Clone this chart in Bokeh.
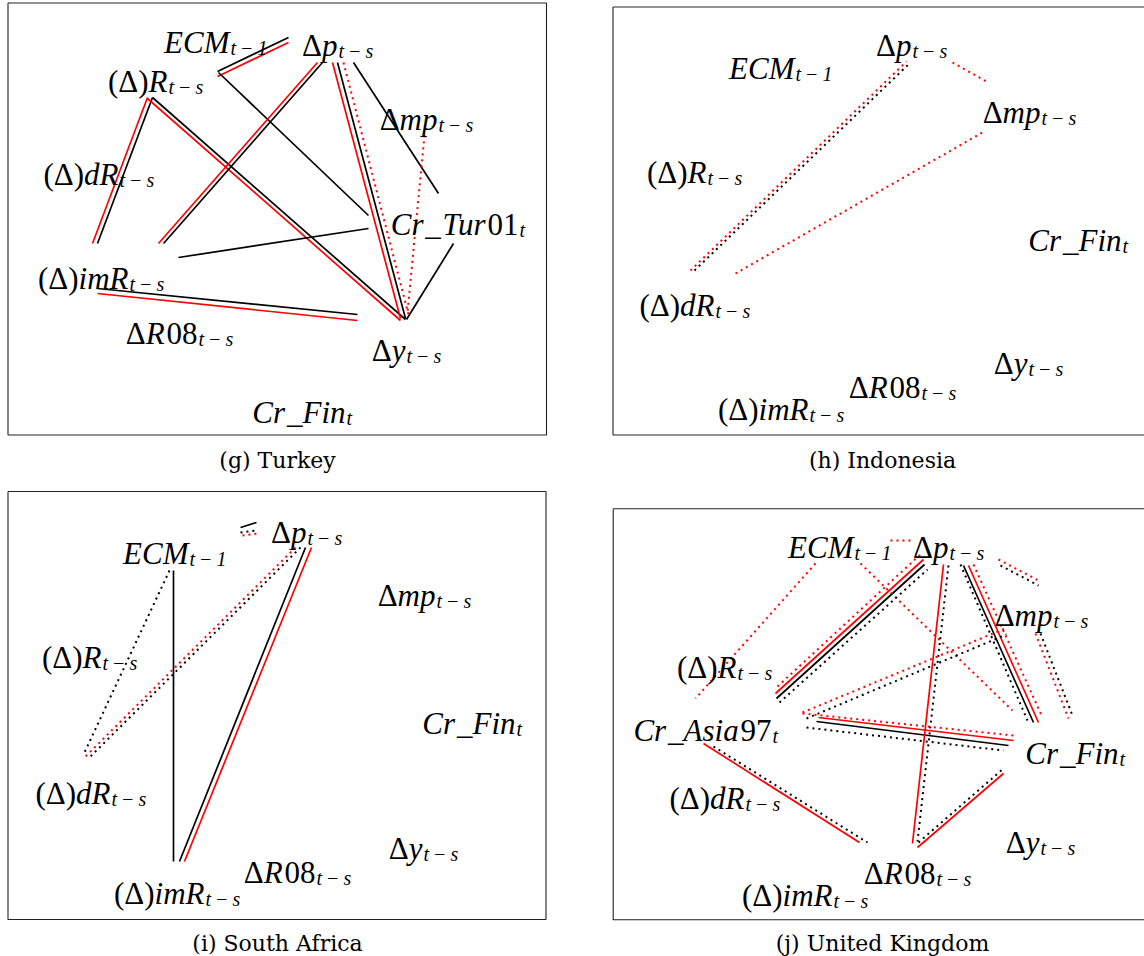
from bokeh.plotting import figure
from bokeh.models import Range1d, ColumnDataSource
from bokeh.core.properties import value
from bokeh.embed import file_html
from bokeh.resources import INLINE

# ---------------- data (page-pixel layout) ----------------
TS = "t\u2009\u2212\u2009s"
T1 = "t\u2009\u2212\u20091"

# nodes: (main label key, subscript, junction x, baseline y)
TURKEY_NODES = [
    ("ECM", T1, 229, 42), ("Dp", TS, 337, 45), ("(D)R", TS, 167, 81),
    ("Dmp", TS, 437, 119), ("(D)dR", TS, 118, 174), ("Cr_Tur01", "t", 518, 224),
    ("(D)imR", TS, 128, 278), ("DR08", TS, 197, 333), ("Dy", TS, 405, 350),
    ("Cr_Fin", "t", 345, 412),
]
INDONESIA_NODES = [
    ("ECM", T1, 794, 68), ("Dp", TS, 911, 45), ("Dmp", TS, 1040, 112),
    ("(D)R", TS, 706, 172), ("Cr_Fin", "t", 1121, 240), ("(D)dR", TS, 714, 305),
    ("Dy", TS, 1027, 363), ("DR08", TS, 920, 387), ("(D)imR", TS, 808, 409),
]
SAFRICA_NODES = [
    ("ECM", T1, 188, 553), ("Dp", TS, 306, 532), ("Dmp", TS, 435, 595),
    ("(D)R", TS, 101, 657), ("Cr_Fin", "t", 515, 723), ("(D)dR", TS, 110, 793),
    ("Dy", TS, 422, 848), ("DR08", TS, 315, 872), ("(D)imR", TS, 204, 893),
]
UK_NODES = [
    ("ECM", T1, 853, 547), ("Dp", TS, 948, 547), ("Dmp", TS, 1052, 615),
    ("(D)R", TS, 736, 667), ("Cr_Asia97", "t", 771, 730), ("Cr_Fin", "t", 1118, 753),
    ("(D)dR", TS, 744, 798), ("Dy", TS, 1039, 842), ("DR08", TS, 935, 873),
    ("(D)imR", TS, 832, 895),
]

# label pieces: upright (U) / italic (I), as typeset in the reference
LABEL_PARTS = {
    "ECM": [("ECM", "I")],
    "Dp": [("\u0394", "U"), ("p", "I")],
    "(D)R": [("(\u0394)", "U"), ("R", "I")],
    "Dmp": [("\u0394", "U"), ("mp", "I")],
    "(D)dR": [("(\u0394)", "U"), ("dR", "I")],
    "Cr_Tur01": [("Cr", "I"), ("_", "U"), ("Tur", "I"), ("01", "U")],
    "(D)imR": [("(\u0394)", "U"), ("imR", "I")],
    "DR08": [("\u0394", "U"), ("R", "I"), ("08", "U")],
    "Dy": [("\u0394", "U"), ("y", "I")],
    "Cr_Fin": [("Cr", "I"), ("_", "U"), ("Fin", "I")],
    "Cr_Asia97": [("Cr", "I"), ("_", "U"), ("Asia", "I"), ("97", "U")],
}

# edges: (x0, y0, x1, y1, colour, style)
TURKEY_EDGES = [
    (217, 71, 288, 37, "black", "solid"), (217, 76, 288, 42, "red", "solid"),
    (218, 72, 368, 215, "black", "solid"),
    (147, 97, 92, 243, "red", "solid"), (152, 97, 97, 243, "black", "solid"),
    (147, 98, 400, 320, "red", "solid"), (152, 97, 405, 319, "black", "solid"),
    (317, 62, 158, 243, "red", "solid"), (322, 62, 163, 243, "black", "solid"),
    (332, 62, 400, 318, "red", "solid"), (337, 62, 405, 318, "black", "solid"),
    (343, 62, 408, 314, "red", "dot"),
    (353, 62, 438, 193, "black", "solid"),
    (424, 135, 407, 312, "red", "dot"),
    (368, 228, 178, 257, "black", "solid"),
    (453, 243, 406, 319, "black", "solid"),
    (97, 288, 357, 314, "black", "solid"), (97, 293, 357, 320, "red", "solid"),
]
INDONESIA_EDGES = [
    (690, 270, 906, 61, "red", "dot"), (694, 270, 910, 62, "black", "dot"),
    (952, 62, 986, 81, "red", "dot"),
    (735, 273, 982, 132, "red", "dot"),
]
SAFRICA_EDGES = [
    (169, 570, 84, 752, "black", "dot"),
    (173, 570, 173, 861, "black", "solid"),
    (295, 547, 84, 757, "red", "dot"), (300, 547, 89, 757, "black", "dot"),
    (305, 547, 179, 861, "black", "solid"), (311, 547, 184, 861, "red", "solid"),
    (240, 527, 256, 522, "black", "solid"),
    (240, 532, 256, 530, "black", "dot"), (242, 535, 257, 533, "red", "dot"),
]
UK_EDGES = [
    (890, 540, 910, 540, "red", "dot"),
    (815, 563, 695, 698, "red", "dot"),
    (860, 563, 1012, 710, "red", "dot"),
    (777, 686, 921, 553, "red", "dot"), (775, 693, 923, 559, "red", "solid"),
    (776, 698, 924, 564, "black", "solid"), (779, 702, 927, 569, "black", "dot"),
    (802, 712, 1007, 627, "red", "dot"), (806, 718, 1006, 634, "black", "dot"),
    (802, 713, 1013, 735, "red", "dot"), (818, 717, 1013, 740, "red", "solid"),
    (816, 721, 1008, 745, "black", "solid"), (806, 727, 1003, 750, "black", "dot"),
    (943, 564, 912, 843, "red", "solid"), (948, 565, 917, 841, "black", "dot"),
    (960, 564, 1027, 720, "black", "dot"), (963, 565, 1033, 722, "black", "solid"),
    (968, 565, 1038, 722, "red", "solid"), (973, 564, 1042, 717, "red", "dot"),
    (998, 559, 1038, 580, "red", "dot"), (1000, 565, 1038, 585, "black", "dot"),
    (1035, 633, 1068, 718, "red", "dot"), (1040, 633, 1072, 715, "black", "dot"),
    (703, 743, 859, 842, "red", "solid"), (713, 746, 867, 842, "black", "dot"),
    (917, 847, 1003, 773, "red", "solid"), (918, 842, 1003, 768, "black", "dot"),
]

CAPTIONS = ["(g) Turkey", "(h) Indonesia", "(i) South Africa", "(j) United Kingdom"]
CAPTION_X = [277, 882, 277, 882]
CAPTION_Y = [460, 460, 943, 943]

# panel frames: left, top, right, bottom
BOXES = [(7.5, 2.5, 546, 434.5), (612.5, 6.5, 1160, 434.5),
         (7.5, 491, 545.5, 919), (612.7, 508.3, 1160, 919.3)]

NODES = TURKEY_NODES + INDONESIA_NODES + SAFRICA_NODES + UK_NODES
EDGES = TURKEY_EDGES + INDONESIA_EDGES + SAFRICA_EDGES + UK_EDGES

# ---------------- font metrics (Liberation Serif, em units) ----------------
UP_W = {"(": 0.333, ")": 0.333, "\u0394": 0.63, "_": 0.5}
IT_W = {"C": 0.667, "E": 0.611, "M": 0.833, "R": 0.611, "T": 0.556, "F": 0.611,
        "A": 0.611, "a": 0.5, "d": 0.5, "i": 0.278, "m": 0.722, "n": 0.5,
        "p": 0.5, "r": 0.389, "s": 0.389, "u": 0.5, "y": 0.444, "t": 0.278}
MAIN_PX = 31
SUB_PX = 20
FONT = "Liberation Serif"


def width(txt, style):
    tbl = UP_W if style == "U" else IT_W
    return sum(tbl.get(ch, 0.5) for ch in txt) * MAIN_PX


# ---------------- figure ----------------
W, H = 1144, 956
p = figure(width=W, height=H, x_range=Range1d(0, W), y_range=Range1d(H, 0),
           output_backend="svg", toolbar_location=None,
           x_axis_type=None, y_axis_type=None, min_border=0)
p.grid.visible = False
p.outline_line_color = None
p.background_fill_color = "white"
p.border_fill_color = "white"

# frames
p.multi_line(xs=[[l, r, r, l, l] for (l, t, r, b) in BOXES],
             ys=[[t, t, b, b, t] for (l, t, r, b) in BOXES],
             line_color="#222222", line_width=1.1)

# edges
for style, dash, lw in [("solid", "solid", 1.7), ("dot", "2 4", 2.0)]:
    sel = [e for e in EDGES if e[5] == style]
    src = ColumnDataSource(dict(x0=[e[0] for e in sel], y0=[e[1] for e in sel],
                                x1=[e[2] for e in sel], y1=[e[3] for e in sel],
                                c=[e[4] for e in sel]))
    p.segment(x0="x0", y0="y0", x1="x1", y1="y1", source=src, line_color="c",
              line_width=lw, line_dash=dash, line_cap="butt")

# node labels: pieces right-aligned against the subscript junction
pieces = {"U": dict(x=[], y=[], text=[]), "I": dict(x=[], y=[], text=[])}
for key, sub, xj, yb in NODES:
    parts = LABEL_PARTS[key]
    right = xj
    for i in range(len(parts) - 1, -1, -1):
        txt, st = parts[i]
        if st == "I" and i < len(parts) - 1:
            right -= 0.06 * MAIN_PX
        pieces[st]["x"].append(right)
        pieces[st]["y"].append(yb)
        pieces[st]["text"].append(txt)
        right -= width(txt, st)

for st, fs in [("U", "normal"), ("I", "italic")]:
    p.text(x="x", y="y", text="text", source=ColumnDataSource(pieces[st]),
           text_font=value(FONT), text_font_style=fs,
           text_font_size=f"{MAIN_PX}px", text_align="right",
           text_baseline="alphabetic", text_color="black")

sub_src = ColumnDataSource(dict(x=[n[2] + 1 for n in NODES], y=[n[3] + 5 for n in NODES],
                                text=[n[1] for n in NODES]))
p.text(x="x", y="y", text="text", source=sub_src, text_font=value(FONT),
       text_font_style="italic", text_font_size=f"{SUB_PX}px", text_align="left",
       text_baseline="alphabetic", text_color="black")

# captions
cap_src = ColumnDataSource(dict(x=CAPTION_X, y=CAPTION_Y, text=CAPTIONS))
p.text(x="x", y="y", text="text", source=cap_src, text_font=value("DejaVu Serif"),
       text_font_size="22px", text_align="center", text_baseline="alphabetic",
       text_color="black")

open("out.html", "w").write(file_html(p, INLINE))
